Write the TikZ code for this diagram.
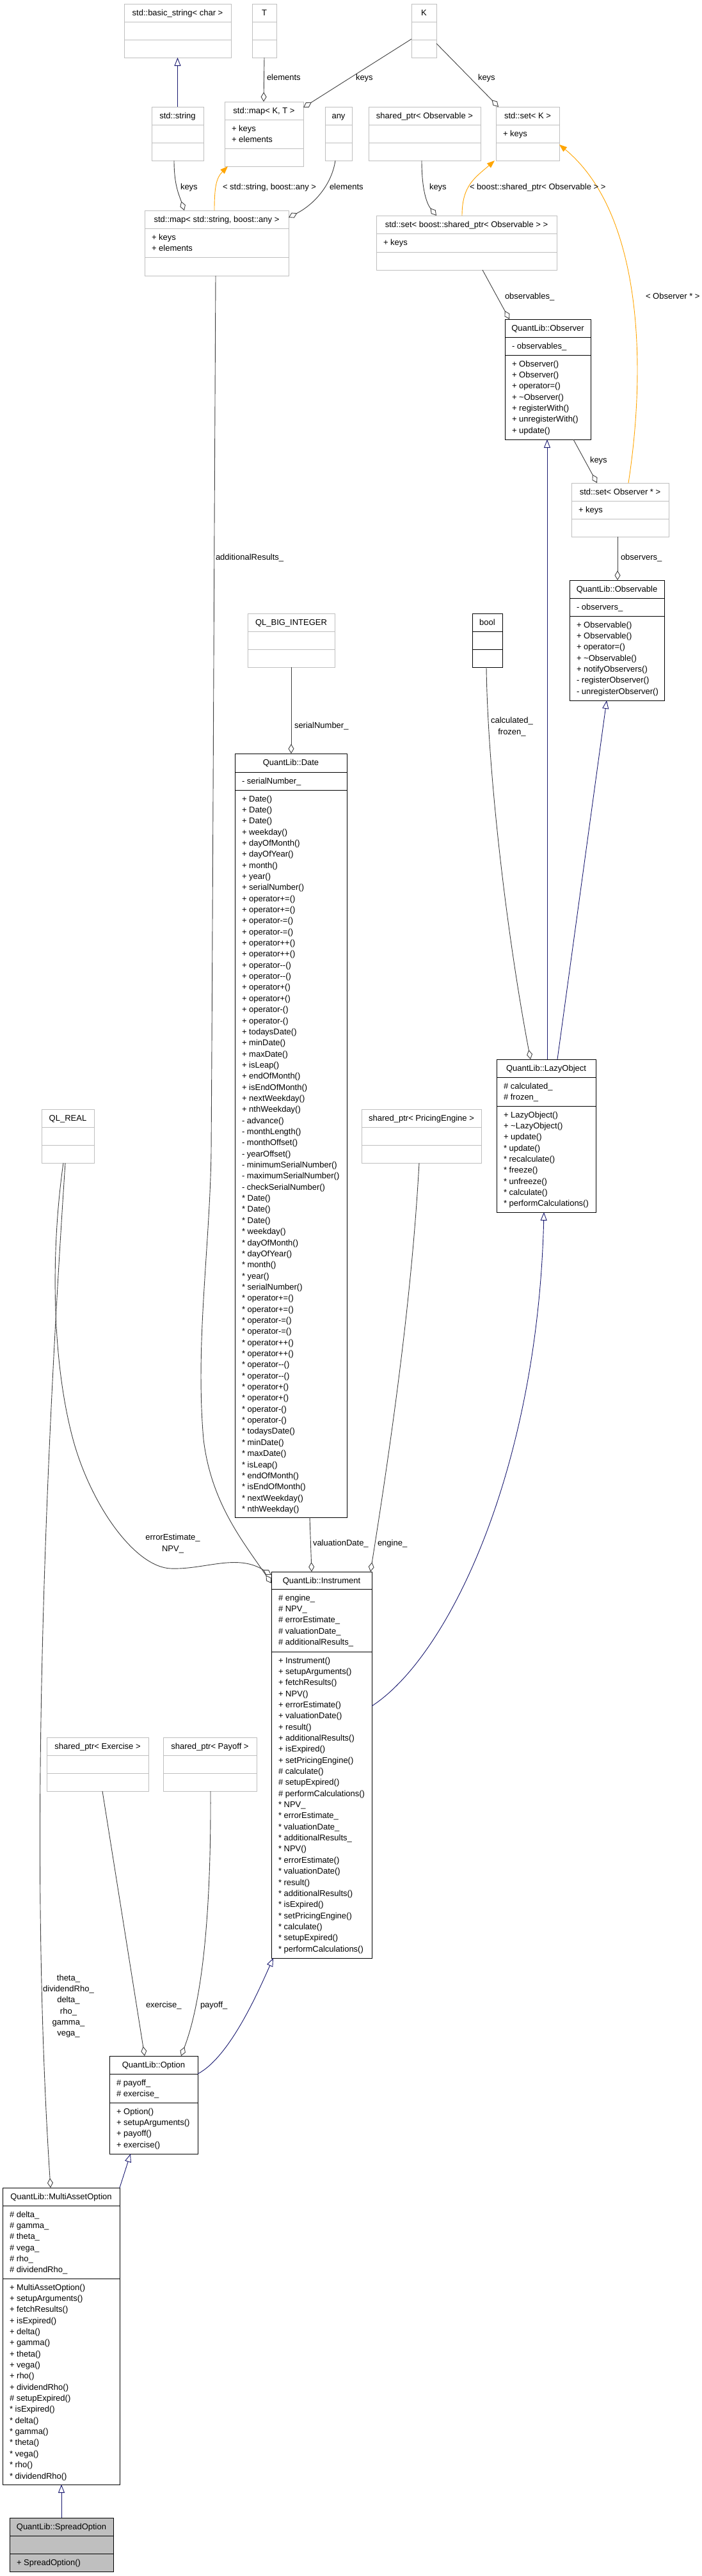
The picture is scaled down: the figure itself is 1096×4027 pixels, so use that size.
\documentclass[tikz,border=0pt]{standalone}
\usepackage{fontspec}
\setmainfont{Liberation Sans}[Ligatures=TeXOff]
\usetikzlibrary{fit,arrows.meta}
\definecolor{boxgray}{HTML}{BFBFBF}
\definecolor{edgegray}{HTML}{404040}
\definecolor{inhblue}{HTML}{191970}
\definecolor{tmplorange}{HTML}{FFA500}
\definecolor{spreadfill}{HTML}{BFBFBF}
\tikzset{
  txt/.style={font=\fontsize{13}{17.35}\selectfont, inner sep=0pt, outer sep=0pt, text=black},
  gbox/.style={draw=boxgray, line width=1pt},
  bbox/.style={draw=black, line width=1pt},
  sbox/.style={draw=black, fill=spreadfill, line width=1pt},
  agg/.style={draw=edgegray, line width=0.9pt, -{Diamond[open, length=15pt, width=9pt]}},
  inh/.style={draw=inhblue, line width=0.9pt, -{Triangle[open, length=13pt, width=10pt]}},
  tmpl/.style={draw=tmplorange, line width=0.9pt, -{Triangle[length=12pt, width=9pt, fill=tmplorange]}},
  lbl/.style={txt, anchor=mid west},
  mlbl/.style={txt, align=center, anchor=center},
}
% #1 id, #2 style, #3 x1, #4 x2, #5 ytop, #6 y header end, #7 y attrs end, #8 ybottom, #9 title
\newcommand\umlcls[9]{%
  \node[#2, fit={(#3,#5) (#4,#8)}, inner sep=0pt, outer sep=0pt] (#1) {};
  \draw[#2] (#3,#6) -- (#4,#6) (#3,#7) -- (#4,#7);
  \node[txt, anchor=base] (#1-h) at ({(#3+#4)/2},{#5+18}) {#9};
}
% #1 id, #2 x1, #3 ytop of compartment, #4 lines
\newcommand\umllines[4]{%
  \node[txt, align=left, anchor=north west] (#1) at ({#2+11},#3) {\rule{0pt}{18pt}#4};
}
\begin{document}
\begin{tikzpicture}[x=1pt,y=-1pt]
\fill[white] (0,0) rectangle (1096,4027);
\useasboundingbox (0,0) rectangle (1096,4027);

% ---------- classes ----------
\umlcls{bstr}{gbox}{194}{361}{6}{34}{62}{90}{std::basic\_string< char >}
\umlcls{T}{gbox}{394}{432}{6}{34}{62}{90}{T}
\umlcls{K}{gbox}{643}{682}{6}{34}{62}{90}{K}
\umlcls{str}{gbox}{237}{318}{167}{195}{223}{251}{std::string}
\umlcls{mapKT}{gbox}{351}{474}{159}{187}{232}{260}{std::map< K, T >}
\umllines{mapKT-a}{351}{187}{+ keys\\+ elements}
\umlcls{any}{gbox}{508}{550}{167}{195}{223}{251}{any}
\umlcls{spObs}{gbox}{576}{751}{167}{195}{223}{251}{shared\_ptr< Observable >}
\umlcls{setK}{gbox}{775}{874}{167}{195}{223}{251}{std::set< K >}
\umllines{setK-a}{775}{195}{+ keys}
\umlcls{mapSA}{gbox}{226}{451}{329}{357}{402}{431}{std::map< std::string, boost::any >}
\umllines{mapSA-a}{226}{357}{+ keys\\+ elements}
\umlcls{setSP}{gbox}{588}{870}{337}{365}{394}{422}{std::set< boost::shared\_ptr< Observable > >}
\umllines{setSP-a}{588}{365}{+ keys}

\umlcls{observer}{bbox}{789}{923}{499}{527}{555}{687}{QuantLib::Observer}
\umllines{observer-a}{789}{527}{- observables\_}
\umllines{observer-m}{789}{555}{+ Observer()\\+ Observer()\\+ operator=()\\+ \textasciitilde Observer()\\+ registerWith()\\+ unregisterWith()\\+ update()}

\umlcls{setObs}{gbox}{893}{1045}{755}{783}{811}{839}{std::set< Observer * >}
\umllines{setObs-a}{893}{783}{+ keys}

\umlcls{observable}{bbox}{890}{1038}{907}{935}{963}{1095}{QuantLib::Observable}
\umllines{observable-a}{890}{935}{- observers\_}
\umllines{observable-m}{890}{963}{+ Observable()\\+ Observable()\\+ operator=()\\+ \textasciitilde Observable()\\+ notifyObservers()\\- registerObserver()\\- unregisterObserver()}

\umlcls{bool}{bbox}{738}{785}{959}{987}{1015}{1043}{bool}
\umlcls{bigint}{gbox}{387}{523}{959}{987}{1015}{1043}{QL\_BIG\_INTEGER}

\umlcls{date}{bbox}{367}{542}{1178}{1207}{1235}{2372}{QuantLib::Date}
\umllines{date-a}{367}{1207}{- serialNumber\_}
\umllines{date-m}{367}{1235}{+ Date()\\+ Date()\\+ Date()\\+ weekday()\\+ dayOfMonth()\\+ dayOfYear()\\+ month()\\+ year()\\+ serialNumber()\\+ operator+=()\\+ operator+=()\\+ operator-=()\\+ operator-=()\\+ operator++()\\+ operator++()\\+ operator--()\\+ operator--()\\+ operator+()\\+ operator+()\\+ operator-()\\+ operator-()\\+ todaysDate()\\+ minDate()\\+ maxDate()\\+ isLeap()\\+ endOfMonth()\\+ isEndOfMonth()\\+ nextWeekday()\\+ nthWeekday()\\- advance()\\- monthLength()\\- monthOffset()\\- yearOffset()\\- minimumSerialNumber()\\- maximumSerialNumber()\\- checkSerialNumber()\\{*} Date()\\{*} Date()\\{*} Date()\\{*} weekday()\\{*} dayOfMonth()\\{*} dayOfYear()\\{*} month()\\{*} year()\\{*} serialNumber()\\{*} operator+=()\\{*} operator+=()\\{*} operator-=()\\{*} operator-=()\\{*} operator++()\\{*} operator++()\\{*} operator--()\\{*} operator--()\\{*} operator+()\\{*} operator+()\\{*} operator-()\\{*} operator-()\\{*} todaysDate()\\{*} minDate()\\{*} maxDate()\\{*} isLeap()\\{*} endOfMonth()\\{*} isEndOfMonth()\\{*} nextWeekday()\\{*} nthWeekday()}

\umlcls{real}{gbox}{65}{147}{1734}{1762}{1790}{1818}{QL\_REAL}
\umlcls{spPE}{gbox}{565}{752}{1734}{1762}{1790}{1818}{shared\_ptr< PricingEngine >}

\umlcls{lazy}{bbox}{776}{931}{1656}{1684}{1729}{1895}{QuantLib::LazyObject}
\umllines{lazy-a}{776}{1684}{\# calculated\_\\\# frozen\_}
\umllines{lazy-m}{776}{1729}{+ LazyObject()\\+ \textasciitilde LazyObject()\\+ update()\\{*} update()\\{*} recalculate()\\{*} freeze()\\{*} unfreeze()\\{*} calculate()\\{*} performCalculations()}

\umlcls{instr}{bbox}{424}{581}{2457}{2484}{2582}{3061}{QuantLib::Instrument}
\umllines{instr-a}{424}{2484}{\# engine\_\\\# NPV\_\\\# errorEstimate\_\\\# valuationDate\_\\\# additionalResults\_}
\umllines{instr-m}{424}{2582}{+ Instrument()\\+ setupArguments()\\+ fetchResults()\\+ NPV()\\+ errorEstimate()\\+ valuationDate()\\+ result()\\+ additionalResults()\\+ isExpired()\\+ setPricingEngine()\\\# calculate()\\\# setupExpired()\\\# performCalculations()\\{*} NPV\_\\{*} errorEstimate\_\\{*} valuationDate\_\\{*} additionalResults\_\\{*} NPV()\\{*} errorEstimate()\\{*} valuationDate()\\{*} result()\\{*} additionalResults()\\{*} isExpired()\\{*} setPricingEngine()\\{*} calculate()\\{*} setupExpired()\\{*} performCalculations()}

\umlcls{spEx}{gbox}{73}{232}{2716}{2744}{2772}{2800}{shared\_ptr< Exercise >}
\umlcls{spPay}{gbox}{255}{401}{2716}{2744}{2772}{2800}{shared\_ptr< Payoff >}

\umlcls{option}{bbox}{171}{309}{3214}{3242}{3287}{3367}{QuantLib::Option}
\umllines{option-a}{171}{3242}{\# payoff\_\\\# exercise\_}
\umllines{option-m}{171}{3287}{+ Option()\\+ setupArguments()\\+ payoff()\\+ exercise()}

\umlcls{mao}{bbox}{4}{187}{3420}{3448}{3562}{3884}{QuantLib::MultiAssetOption}
\umllines{mao-a}{4}{3448}{\# delta\_\\\# gamma\_\\\# theta\_\\\# vega\_\\\# rho\_\\\# dividendRho\_}
\umllines{mao-m}{4}{3562}{+ MultiAssetOption()\\+ setupArguments()\\+ fetchResults()\\+ isExpired()\\+ delta()\\+ gamma()\\+ theta()\\+ vega()\\+ rho()\\+ dividendRho()\\\# setupExpired()\\{*} isExpired()\\{*} delta()\\{*} gamma()\\{*} theta()\\{*} vega()\\{*} rho()\\{*} dividendRho()}

\umlcls{spread}{sbox}{15}{177}{3936}{3964}{3992}{4020}{QuantLib::SpreadOption}
\umllines{spread-m}{15}{3992}{+ SpreadOption()}

% ---------- connectors ----------
\draw[inh] (str.north) -- (bstr.south);
\draw[agg] (T.south) -- (412,0 |- mapKT.north);
\draw[agg] (K.west |- 0,61) -- (mapKT.east |- 0,168);
\draw[agg] (K.east |- 0,68) -- (779,0 |- setK.north);
\draw[agg] (272,0 |- str.south) .. controls (272,290) and (280,305) .. (288,0 |- mapSA.north);
\draw[tmpl] (335,0 |- mapSA.north) .. controls (335,292) and (338,278) .. (356,0 |- mapKT.south);
\draw[agg] (524,0 |- any.south) .. controls (518,290) and (490,320) .. (mapSA.east |- 0,340);
\draw[agg] (659,0 |- spObs.south) .. controls (659,300) and (668,320) .. (682,0 |- setSP.north);
\draw[tmpl] (722,0 |- setSP.north) .. controls (722,290) and (742,278) .. (773,0 |- setK.south);
\draw[tmpl] (982,0 |- setObs.north) .. controls (1012,560) and (1000,330) .. (setK.east |- 0,226);
\draw[agg] (754,0 |- setSP.south) -- (796,0 |- observer.north);
\draw[agg] (896,0 |- observer.south) -- (933,0 |- setObs.north);
\draw[agg] (965,0 |- setObs.south) -- (965,0 |- observable.north);
\draw[inh] (855,0 |- lazy.north) -- (855,0 |- observer.south);
\draw[inh] (871,0 |- lazy.north) -- (948,0 |- observable.south);
\draw[agg] (760,0 |- bool.south) .. controls (762,1200) and (790,1450) .. (829,0 |- lazy.north);
\draw[agg] (bigint.south) -- (455,0 |- date.north);
\draw[agg] (484,0 |- date.south) -- (487,0 |- instr.north);
\draw[agg] (655,0 |- spPE.south) .. controls (645,2000) and (620,2200) .. (579,0 |- instr.north);
\draw[inh] (instr.east |- 0,2667) .. controls (700,2590) and (840,2300) .. (850,0 |- lazy.south);
\draw[inh] (option.east |- 0,3242) .. controls (360,3215) and (405,3110) .. (427,0 |- instr.south);
\draw[agg] (160,0 |- spEx.south) -- (226,0 |- option.north);
\draw[agg] (329,0 |- spPay.south) .. controls (330,3000) and (315,3130) .. (283,0 |- option.north);
\draw[inh] (mao.north east) -- (204,0 |- option.south);
\draw[inh] (spread.north) -- (spread.north |- mao.south);
\draw[agg] (102,0 |- real.south) .. controls (70,2300) and (45,2900) .. (79,0 |- mao.north);
\draw[agg] (99,0 |- real.south) .. controls (80,1950) and (80,2120) .. (113,2246)
   .. controls (140,2350) and (210,2450) .. (267,2452)
   .. controls (320,2454) and (370,2428) .. (instr.west |- 0,2462);
\draw[agg] (337,0 |- mapSA.south) .. controls (334,1000) and (332,1500) .. (330,1800)
   .. controls (328,1950) and (305,2100) .. (318,2250)
   .. controls (330,2350) and (380,2410) .. (instr.west |- 0,2475);

% ---------- labels ----------
\node[lbl] (l-elem1) at (417,123) {elements};
\node[lbl] (l-keys1) at (556,123) {keys};
\node[lbl] (l-keys2) at (747,123) {keys};
\node[lbl] (l-keys3) at (282,294) {keys};
\node[lbl] (l-tmpl1) at (348,294) {< std::string, boost::any >};
\node[lbl] (l-elem2) at (515,294) {elements};
\node[lbl] (l-keys4) at (671,294) {keys};
\node[lbl] (l-tmpl2) at (734,294) {< boost::shared\_ptr< Observable > >};
\node[lbl] (l-obs) at (789,465) {observables\_};
\node[lbl] (l-tmpl3) at (1009,465) {< Observer * >};
\node[lbl] (l-keys5) at (922,721) {keys};
\node[lbl] (l-add) at (337,873) {additionalResults\_};
\node[lbl] (l-observers) at (970,873) {observers\_};
\node[mlbl] (l-calc) at (800,1136) {calculated\_\\frozen\_};
\node[lbl] (l-serial) at (460,1136) {serialNumber\_};
\node[lbl] (l-val) at (489,2414) {valuationDate\_};
\node[lbl] (l-eng) at (590,2414) {engine\_};
\node[mlbl] (l-npv) at (270,2413) {errorEstimate\_\\NPV\_};
\node[mlbl] (l-greeks) at (107,3136) {theta\_\\dividendRho\_\\delta\_\\rho\_\\gamma\_\\vega\_};
\node[lbl] (l-ex) at (228,3136) {exercise\_};
\node[lbl] (l-pay) at (313,3136) {payoff\_};
\end{tikzpicture}
\end{document}
